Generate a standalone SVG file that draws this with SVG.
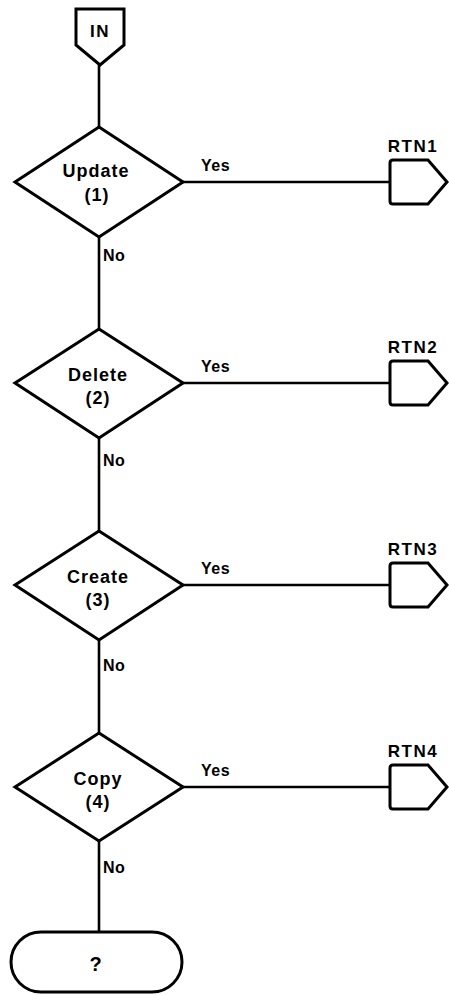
<svg xmlns="http://www.w3.org/2000/svg" width="449" height="995" viewBox="0 0 449 995">
  <style>
    .shape { fill: #fff; stroke: #000; stroke-width: 3; stroke-linejoin: miter; }
    .wire { fill: none; stroke: #000; stroke-width: 2.6; }
    text { font-family: "Liberation Sans", Arial, sans-serif; font-weight: bold; fill: #000; }
    .lbl { font-size: 18px; letter-spacing: 1px; text-anchor: middle; }
    .edge { font-size: 16px; letter-spacing: 0.5px; }
    .port { font-size: 17px; letter-spacing: 1.5px; text-anchor: middle; }
  </style>
  <rect width="449" height="995" fill="#fff"/>

  <!-- connectors -->
  <g id="connectors">
    <path class="wire" d="M99 65 V127"/>
    <path class="wire" d="M99 237 V329"/>
    <path class="wire" d="M99 438 V531"/>
    <path class="wire" d="M99 640 V733"/>
    <path class="wire" d="M99 841 V932"/>
    <path class="wire" d="M183 182 H390"/>
    <path class="wire" d="M183 383 H390"/>
    <path class="wire" d="M183 585 H390"/>
    <path class="wire" d="M183 787 H390"/>
    <text class="edge" x="201" y="171">Yes</text>
    <text class="edge" x="201" y="372">Yes</text>
    <text class="edge" x="201" y="574">Yes</text>
    <text class="edge" x="201" y="776">Yes</text>
    <text class="edge" x="103" y="261">No</text>
    <text class="edge" x="103" y="466">No</text>
    <text class="edge" x="103" y="671">No</text>
    <text class="edge" x="103" y="873">No</text>
  </g>

  <!-- entry connector -->
  <g id="in">
    <path class="shape" d="M76 9 H124 V45 L100 65 L76 45 Z"/>
    <text class="port" x="100" y="37">IN</text>
  </g>

  <!-- decisions -->
  <g id="update">
    <path class="shape" d="M99 127 L183 182 L99 237 L15 182 Z"/>
    <text class="lbl" x="96" y="177">Update</text>
    <text class="lbl" x="97" y="201">(1)</text>
  </g>
  <g id="delete">
    <path class="shape" d="M99 329 L183 383 L99 438 L15 383 Z"/>
    <text class="lbl" x="98" y="381">Delete</text>
    <text class="lbl" x="98" y="404">(2)</text>
  </g>
  <g id="create">
    <path class="shape" d="M99 531 L183 585 L99 640 L15 585 Z"/>
    <text class="lbl" x="98" y="583">Create</text>
    <text class="lbl" x="98" y="606">(3)</text>
  </g>
  <g id="copy">
    <path class="shape" d="M99 733 L183 787 L99 841 L15 787 Z"/>
    <text class="lbl" x="98" y="785">Copy</text>
    <text class="lbl" x="98" y="808">(4)</text>
  </g>

  <!-- exit connectors -->
  <g id="rtn1">
    <path class="shape" d="M393 160 H428 L447 182 L428 204 H393 Q390 204 390 201 V163 Q390 160 393 160 Z"/>
    <text class="port" x="413" y="152">RTN1</text>
  </g>
  <g id="rtn2">
    <path class="shape" d="M393 361 H428 L447 383 L428 405 H393 Q390 405 390 402 V364 Q390 361 393 361 Z"/>
    <text class="port" x="413" y="353">RTN2</text>
  </g>
  <g id="rtn3">
    <path class="shape" d="M393 563 H428 L447 585 L428 607 H393 Q390 607 390 604 V566 Q390 563 393 563 Z"/>
    <text class="port" x="413" y="555">RTN3</text>
  </g>
  <g id="rtn4">
    <path class="shape" d="M393 765 H428 L447 787 L428 809 H393 Q390 809 390 806 V768 Q390 765 393 765 Z"/>
    <text class="port" x="413" y="757">RTN4</text>
  </g>

  <!-- terminal -->
  <g id="end">
    <rect class="shape" x="11" y="932" width="171" height="60" rx="30" ry="30"/>
    <text class="lbl" x="96" y="971" style="font-size:20px">?</text>
  </g>
</svg>
